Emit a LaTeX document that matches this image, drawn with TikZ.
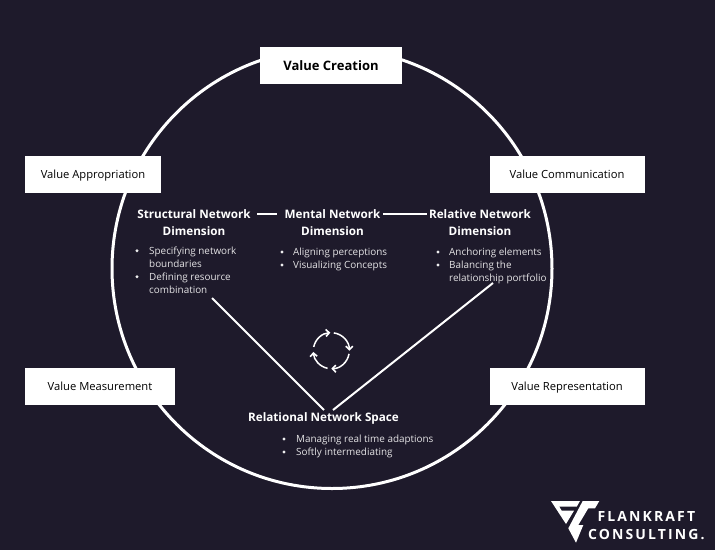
\documentclass[tikz,border=0pt]{standalone}
\usepackage{fontspec}
\setmainfont{Open Sans}
\newfontfamily\logofont[LetterSpace=15]{Open Sans}
\usetikzlibrary{arrows.meta}
\definecolor{bg}{HTML}{1E1A2B}
\tikzset{
  x=1pt,y=-1pt,
  box/.style={draw=none,fill=white,text=black,anchor=center,inner sep=0pt,text height=8pt,text depth=0pt,font=\fontsize{11.2}{13}\selectfont},
  head/.style={text=white,align=center,font=\fontsize{11.7}{17}\selectfont\bfseries,inner sep=0pt},
  body/.style={text=white!88!bg,anchor=north west,inner sep=0pt,align=left,font=\fontsize{9.9}{13}\selectfont},
  dot/.style={circle,fill=white!92!bg,inner sep=0pt,minimum size=3.4pt},
  ring/.style={draw=white,line width=3pt},
  link/.style={draw=white,line width=2pt},
  cyc/.style={draw=white,line width=1.5pt,-{Straight Barb[length=3.4pt,width=7pt,line width=1.6pt]}},
  logotext/.style={text=white,anchor=west,inner sep=0pt,font=\logofont\fontsize{14}{15}\selectfont\bfseries}
}
\begin{document}
\begin{tikzpicture}
\useasboundingbox (0,0) rectangle (715,550);
\fill[bg] (0,0) rectangle (715,550);
\coordinate (c) at (332,268.500);
\draw[ring] (c) circle[radius=220];
\node[box,minimum width=142,minimum height=37.300,text height=9.400pt,font=\fontsize{13}{15}\selectfont\bfseries] (creation) at (331,65.300) {Value Creation};
\node[box,minimum width=136,minimum height=37] (approp) at (93,174.500) {Value Appropriation};
\node[box,minimum width=155,minimum height=37] (comm) at (567,174.500) {Value Communication};
\node[box,minimum width=150,minimum height=37] (meas) at (100,386) {Value Measurement};
\node[box,minimum width=155,minimum height=37] (repr) at (567,386) {Value Representation};
\node[head] (struct) at (194,223) {Structural Network\\Dimension};
\node[head] (mental) at (332.500,223) {Mental Network\\Dimension};
\node[head] (relat) at (480,223) {Relative Network\\Dimension};
\node[head,anchor=center] (space) at (323.500,418.500) {Relational Network Space};
\draw[link] (257,213.700) -- (277,213.700);
\draw[link] (383,213.700) -- (427,213.700);
\coordinate (apexl) at (324,410);
\coordinate (apexr) at (333,410);
\coordinate (fromstruct) at (212,298);
\coordinate (fromrelat) at (493,283);
\draw[link] (fromstruct) -- (apexl);
\draw[link] (fromrelat) -- (apexr);
\node[dot] (d1) at (137,250.700) {};
\node[body] (t1) at (149,246.500) {Specifying network\\boundaries};
\node[dot] (d2) at (137,276.700) {};
\node[body] (t2) at (149,272.500) {Defining resource\\combination};
\node[dot] (d3) at (282,252) {};
\node[body] (t3) at (293,248) {Aligning perceptions};
\node[dot] (d4) at (282,265) {};
\node[body] (t4) at (293,261) {Visualizing Concepts};
\node[dot] (d5) at (438,252) {};
\node[body] (t5) at (449,248) {Anchoring elements};
\node[dot] (d6) at (438,265) {};
\node[body] (t6) at (449,261) {Balancing the\\relationship portfolio};
\node[dot] (d7) at (284,439) {};
\node[body] (t7) at (296,435) {Managing real time adaptions};
\node[dot] (d8) at (284,452) {};
\node[body] (t8) at (296,448) {Softly intermediating};
\coordinate (o) at (331.300,350.700);
\begin{scope}[shift={(o)},x=1pt,y=1pt]
\draw[cyc] (82:18) arc[start angle=82,end angle=0,radius=18pt];
\draw[cyc] (-10:18) arc[start angle=-10,end angle=-90,radius=18pt];
\draw[cyc] (-102:18) arc[start angle=-102,end angle=-176,radius=18pt];
\draw[cyc] (168:18) arc[start angle=168,end angle=93,radius=18pt];
\end{scope}
% logo
\fill[white] (551,501) -- (580,501) -- (576.700,506.700) -- (559.300,506.700) -- (561.700,510.700) -- (574,510.700) -- (566,524) -- cycle;
\fill[white] (582.700,501) -- (599.300,501) -- (595,508.300) -- (588.300,508.300) -- (578.300,525) -- (583.300,525) -- (576,542.700) -- (568.300,528.300) -- cycle;
\node[logotext] (fl) at (597.500,516) {FLANKRAFT};
\node[logotext] (co) at (588,535) {CONSULTING.};
\end{tikzpicture}
\end{document}
